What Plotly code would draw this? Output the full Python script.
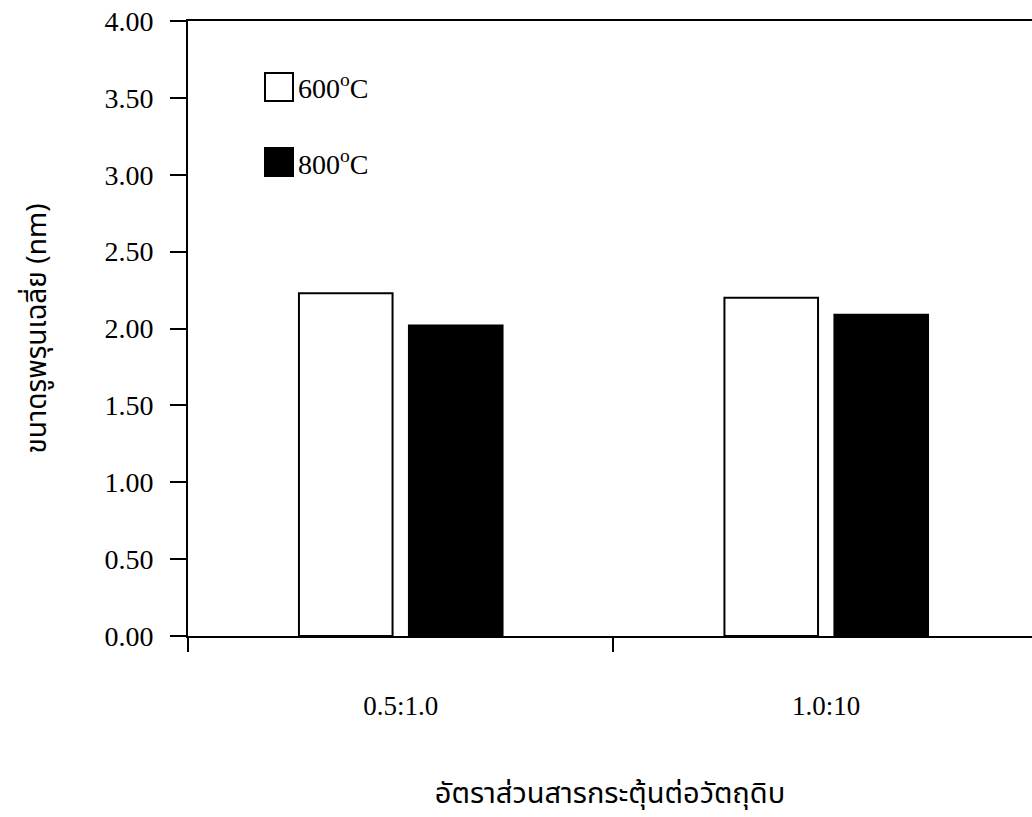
import plotly.graph_objects as go

categories = ["0.5:1.0", "1.0:10"]
series_names = ["600<sup>o</sup>C", "800<sup>o</sup>C"]
values_600 = [2.23, 2.20]
values_800 = [2.02, 2.09]
y_ticks = [0, 0.5, 1, 1.5, 2, 2.5, 3, 3.5, 4]
y_ticklabels = ["0.00", "0.50", "1.00", "1.50", "2.00", "2.50", "3.00", "3.50", "4.00"]

W, H = 1032, 817
L, T, B, R = 188, 21, 181, 0
pw, ph = W - L - R, H - T - B

def px(x):
    return (x - L) / pw

def py(y):
    return (H - B - y) / ph

serif = "Liberation Serif, Times New Roman, serif"
thai = "Noto Sans Thai, Loma, Garuda, Norasi, Liberation Serif, serif"

fig = go.Figure()
fig.add_trace(go.Bar(x=categories, y=values_600, name=series_names[0],
                     marker=dict(color="white", line=dict(color="black", width=2)),
                     showlegend=False))
fig.add_trace(go.Bar(x=categories, y=values_800, name=series_names[1],
                     marker=dict(color="black", line=dict(color="black", width=2)),
                     showlegend=False))

# legend swatches
fig.add_shape(type="rect", xref="paper", yref="paper",
              x0=px(265), x1=px(293), y0=py(101), y1=py(73),
              line=dict(color="black", width=2), fillcolor="white")
fig.add_shape(type="rect", xref="paper", yref="paper",
              x0=px(265), x1=px(293), y0=py(176), y1=py(148),
              line=dict(color="black", width=2), fillcolor="black")
fig.add_annotation(xref="paper", yref="paper", x=px(296), y=py(87), text=series_names[0],
                   showarrow=False, xanchor="left", yanchor="middle",
                   font=dict(family=serif, size=28, color="black"))
fig.add_annotation(xref="paper", yref="paper", x=px(296), y=py(162), text=series_names[1],
                   showarrow=False, xanchor="left", yanchor="middle",
                   font=dict(family=serif, size=28, color="black"))

fig.update_layout(
    width=W, height=H,
    margin=dict(l=L, r=R, t=T, b=B),
    paper_bgcolor="white", plot_bgcolor="white",
    barmode="group", bargap=0.483, bargroupgap=0.149,
    xaxis=dict(
        type="category", range=[-0.5, 1.4836],
        showline=True, linecolor="black", linewidth=2, mirror=True,
        ticks="outside", tickson="boundaries", ticklen=14, tickwidth=2, tickcolor="black",
        ticklabelstandoff=45,
        tickfont=dict(family=serif, size=27, color="black"),
        showgrid=False, zeroline=False,
        title=dict(text="อัตราส่วนสารกระตุ้นต่อวัตถุดิบ",
                   font=dict(family=thai, size=29, color="black"), standoff=62),
    ),
    yaxis=dict(
        range=[0, 4], tickvals=y_ticks, ticktext=y_ticklabels,
        showline=True, linecolor="black", linewidth=2, mirror=False,
        ticks="outside", ticklen=16, tickwidth=2, tickcolor="black",
        ticklabelstandoff=11,
        tickfont=dict(family=serif, size=28, color="black"),
        showgrid=False, zeroline=False,
        title=dict(text="ขนาดรูพรุนเฉลี่ย (nm)",
                   font=dict(family=thai, size=28, color="black"), standoff=50),
    ),
)

fig.write_html("out.html")
